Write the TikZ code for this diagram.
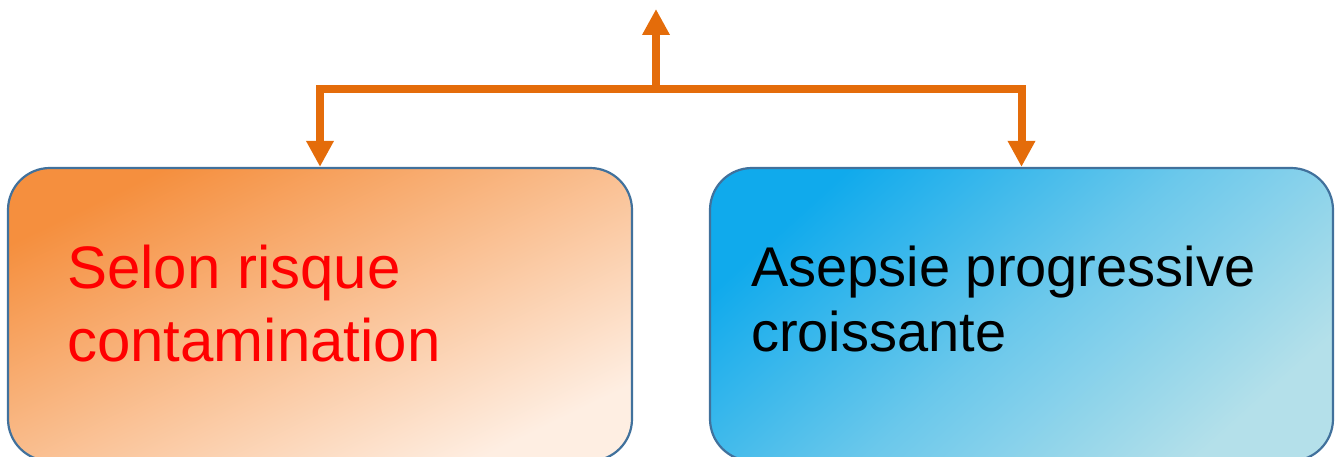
\documentclass[tikz,border=0pt]{standalone}
\usepackage{fontspec}
\setmainfont{Liberation Sans}
\usetikzlibrary{arrows.meta}
\definecolor{arrorange}{HTML}{E46C0A}
\definecolor{boxborder}{HTML}{41719C}
\definecolor{orA}{HTML}{F58F3E}
\definecolor{orB}{HTML}{FEEEE2}
\definecolor{blA}{HTML}{10AAEC}
\definecolor{blB}{HTML}{B4E0EA}
\begin{document}
\begin{tikzpicture}[x=1pt,y=1pt,
  box/.style={draw=boxborder, line width=2.2pt, rounded corners=42pt, minimum width=624pt, minimum height=293pt, inner sep=0pt},
  arr/.style={draw=arrorange, line width=8pt, line join=miter, -{Triangle[width=26pt,length=26pt]}},
  ltxt/.style={inner sep=0pt, anchor=base west, text=red, font=\fontsize{60}{70}\selectfont},
  rtxt/.style={inner sep=0pt, anchor=base west, text=black, font=\fontsize{56}{66}\selectfont}]
\useasboundingbox (0,0) rectangle (1336,457);
\clip (0,0) rectangle (1336,457);
\node[box, top color=orA, bottom color=orB, shading angle=26] (lbox) at (320,142.5) {};
\node[box, minimum width=623pt, top color=blA, bottom color=blB, middle color=blA!45!blB, shading angle=42] (rbox) at (1021.5,142.5) {};
\node[ltxt] (lt1) at (67,168) {Selon risque};
\node[ltxt] (lt2) at (67,95) {contamination};
\node[rtxt] (rt1) at (751,170) {Asepsie progressive};
\node[rtxt] (rt2) at (751,105) {croissante};
\coordinate (j) at (656,368);
\coordinate (up) at (656,448);
\draw[arr] (j) -- (up);
\draw[arr] (j) -| (lbox.north);
\draw[arr] (j) -| (rbox.north);
\end{tikzpicture}
\end{document}
